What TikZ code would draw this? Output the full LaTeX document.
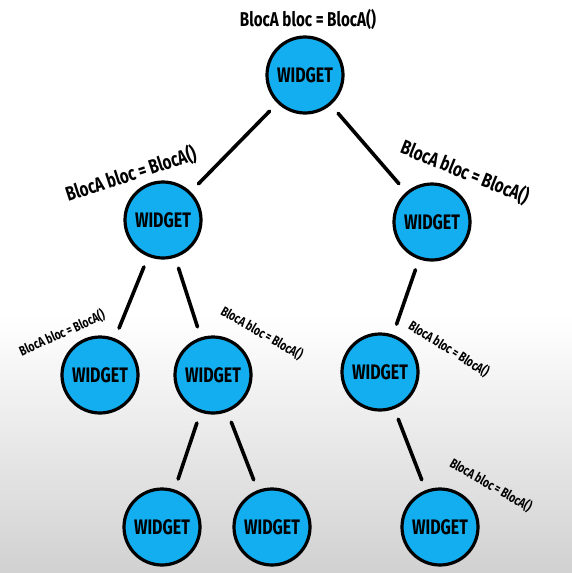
\documentclass[tikz,border=0pt]{standalone}
\usepackage{fontspec}
\setmainfont{Fira Sans}
\newfontfamily\handfont[FakeStretch=0.76]{Fira Sans}
\definecolor{widgetblue}{RGB}{18,174,240}
\begin{document}
\begin{tikzpicture}[x=1pt,y=-1pt]
            \tikzstyle{unit}=[draw,shape=circle,line width=3.2pt,fill=widgetblue,minimum size=76pt,inner sep=0pt,font=\handfont\bfseries\fontsize{21}{21}\selectfont]
            \tikzstyle{link}=[line width=3.6pt,line cap=round,shorten >=11pt,shorten <=11pt]
            \tikzstyle{bloc}=[font=\handfont\bfseries\fontsize{20}{20}\selectfont]
            \tikzstyle{smallbloc}=[font=\handfont\bfseries\fontsize{13.5}{13.5}\selectfont]
            \useasboundingbox (0,0) rectangle (572,573);
            \shade[top color=white,bottom color=black!18] (0,315) rectangle (572,573);
            % widgets
            \node[unit](w0) at (305,75){WIDGET};
            \node[unit](w1) at (163,220){WIDGET};
            \node[unit](w2) at (432,222){WIDGET};
            \node[unit](w3) at (100,375){WIDGET};
            \node[unit](w4) at (213,375){WIDGET};
            \node[unit](w5) at (380,372){WIDGET};
            \node[unit](w6) at (162,527){WIDGET};
            \node[unit](w7) at (272,527){WIDGET};
            \node[unit](w8) at (440,527){WIDGET};
            % links
            \draw[link] (w0) -- (w1);
            \draw[link] (w0) -- (w2);
            \draw[link] (w1) -- (w3);
            \draw[link] (w1) -- (w4);
            \draw[link] (w2) -- (w5);
            \draw[link] (w4) -- (w6);
            \draw[link] (w4) -- (w7);
            \draw[link] (w5) -- (w8);
            % blocs
            \node[bloc](b0) at (308,19){BlocA bloc = BlocA()};
            \node[bloc,rotate=18](b1) at (131,174){BlocA bloc = BlocA()};
            \node[bloc,rotate=-22](b2) at (465,172){BlocA bloc = BlocA()};
            \node[smallbloc,rotate=24](b3) at (62,333){BlocA bloc = BlocA()};
            \node[smallbloc,rotate=-30](b4) at (262,333){BlocA bloc = BlocA()};
            \node[smallbloc,rotate=-32](b5) at (449,349){BlocA bloc = BlocA()};
            \node[smallbloc,rotate=-30](b6) at (491,485){BlocA bloc = BlocA()};
          \end{tikzpicture}
\end{document}
